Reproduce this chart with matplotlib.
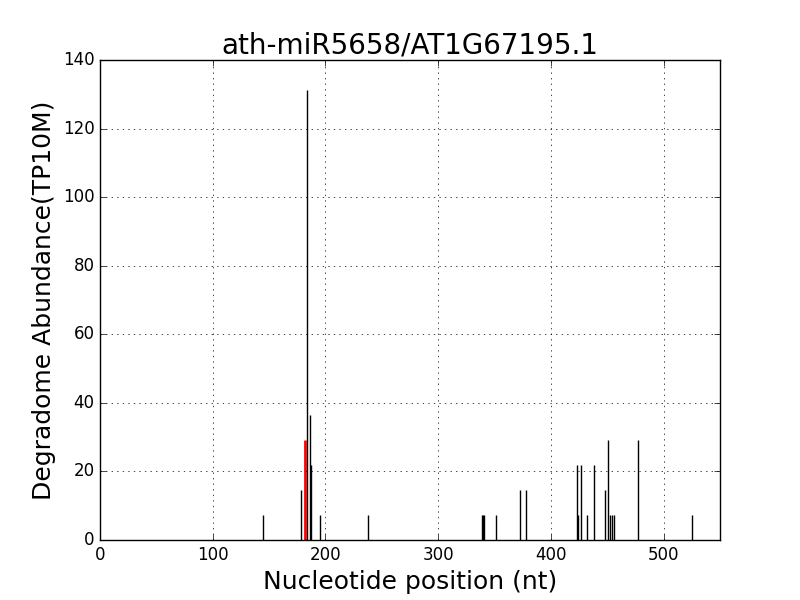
import matplotlib
matplotlib.use('Agg')
import matplotlib.pyplot as plt

# Degradome-Signale (Position in nt, Abundanz in TP10M)
positions = [145, 178, 184, 186, 187, 195, 238, 339, 340, 341, 351, 373, 378,
             423, 424, 427, 432, 438, 448, 451, 452, 454, 456, 477, 525]
abundance = [7.29, 14.58, 131.22, 36.45, 21.87, 7.29, 7.29, 7.29, 7.29, 7.29, 7.29, 14.58, 14.58,
             21.87, 7.29, 21.87, 7.29, 21.87, 14.58, 29.16, 7.29, 7.29, 7.29, 29.16, 7.29]

# Schnittstelle (rot)
cleave_pos = [182]
cleave_val = [29.16]

plt.style.use('classic')
fig = plt.figure(figsize=(8, 6), dpi=100)
ax = fig.add_subplot(111)

ax.vlines(positions, 0, abundance, colors='black', linewidth=1)
ax.vlines(cleave_pos, 0, cleave_val, colors='red', linewidth=2)

ax.set_xlim(0, 550)
ax.set_ylim(0, 140)
ax.grid(True)

ax.set_title('ath-miR5658/AT1G67195.1', fontsize=20)
ax.set_xlabel('Nucleotide position (nt)', fontsize=18)
ax.set_ylabel('Degradome Abundance(TP10M)', fontsize=18)

fig.savefig('out.png', dpi=100)
